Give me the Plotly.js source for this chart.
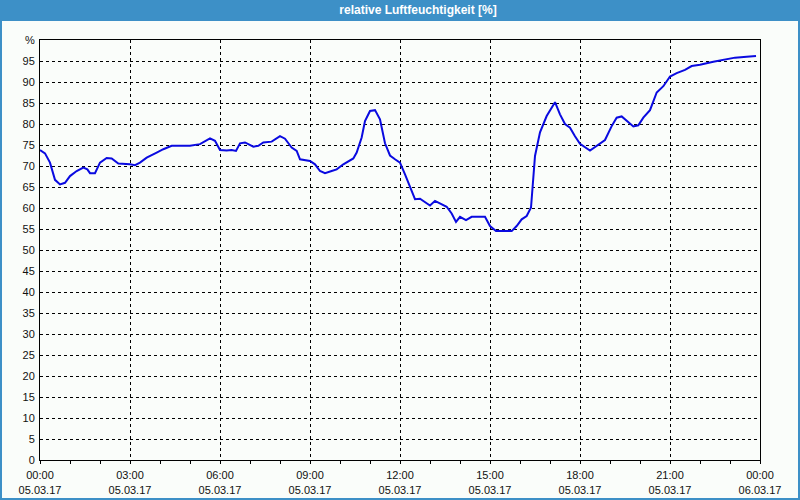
<!DOCTYPE html>
<html>
<head>
<meta charset="utf-8">
<script src="https://cdn.plot.ly/plotly-3.0.1.min.js"></script>
<style>html,body{margin:0;padding:0;background:#fafdfa;}#chart{width:800px;height:500px;}</style>
</head>
<body>
<div id="chart"></div>
<script>
// hours since 05.03.17 00:00
const hours = [0.000,0.167,0.333,0.5,0.667,0.833,1.0,1.222,1.444,1.578,1.667,1.833,2.0,2.222,2.389,2.611,3.0,3.167,3.333,3.556,3.889,4.111,4.389,5.0,5.333,5.5,5.667,5.833,6.0,6.222,6.389,6.533,6.667,6.833,7.111,7.278,7.444,7.722,8.0,8.167,8.389,8.556,8.667,9.0,9.167,9.333,9.5,9.722,9.889,10.111,10.444,10.556,10.722,10.833,11.0,11.167,11.333,11.5,11.667,11.833,12.0,12.167,12.333,12.5,12.667,12.833,13.0,13.167,13.333,13.556,13.722,13.867,14.0,14.2,14.389,14.833,15.0,15.2,15.722,15.889,16.056,16.222,16.367,16.422,16.5,16.667,16.889,17.167,17.333,17.5,17.667,17.833,18.0,18.333,18.556,18.833,19.056,19.222,19.389,19.556,19.778,19.944,20.111,20.333,20.556,20.778,21.0,21.222,21.5,21.722,22.0,22.444,22.778,23.167,23.556,23.867];
const humidity = [73.8,73.0,70.8,66.7,65.6,66.0,67.6,68.8,69.6,69.2,68.3,68.3,70.8,71.9,71.8,70.6,70.4,70.2,70.8,72.0,73.2,74.0,74.8,74.8,75.2,76.0,76.6,76.0,73.8,73.7,73.8,73.6,75.4,75.6,74.6,74.8,75.6,75.8,77.1,76.5,74.4,73.6,71.6,71.2,70.4,68.8,68.3,68.8,69.2,70.4,71.8,73.2,76.8,80.7,83.1,83.3,81.1,75.4,72.5,71.6,70.8,68.0,64.9,62.1,62.2,61.3,60.6,61.7,61.1,60.3,58.7,56.7,57.9,57.1,57.9,57.9,55.7,54.5,54.5,55.7,57.3,58.1,60.1,66.0,72.4,78.0,81.9,85.2,82.3,80.0,79.1,77.1,75.3,73.7,74.8,76.2,79.5,81.5,81.8,80.7,79.4,79.7,81.5,83.3,87.5,89.0,91.3,92.1,92.9,93.8,94.1,94.8,95.2,95.8,96.0,96.2];

const xTickVals = [0,3,6,9,12,15,18,21,24];
const xTickText = ["00:00<br>05.03.17","03:00<br>05.03.17","06:00<br>05.03.17","09:00<br>05.03.17","12:00<br>05.03.17","15:00<br>05.03.17","18:00<br>05.03.17","21:00<br>05.03.17","00:00<br>06.03.17"];
const yTickVals = [0,5,10,15,20,25,30,35,40,45,50,55,60,65,70,75,80,85,90,95,100];
const yTickText = ["0","5","10","15","20","25","30","35","40","45","50","55","60","65","70","75","80","85","90","95","%"];
const chartTitle = "relative Luftfeuchtigkeit [%]";

const W = 720, H = 420, L = 40, T = 40;
const px = v => (v - L) / W;
const py = v => (T + H - v) / H;
const barBlue = '#3d90c7';

const trace = {
  x: hours, y: humidity, type: 'scatter', mode: 'lines',
  line: {color: '#0a0ae0', width: 2}, hoverinfo: 'skip'
};

const tickFont = {family: 'Liberation Sans, Arial, sans-serif', size: 11, color: '#111111'};

const layout = {
  width: 800, height: 500,
  margin: {l: 40, r: 40, t: 40, b: 40},
  paper_bgcolor: '#fafdfa', plot_bgcolor: '#fafdfa',
  showlegend: false,
  title: {text: chartTitle, x: 418/800, xanchor: 'center', y: 1 - 10/500, yanchor: 'middle', yref: 'container', xref: 'container',
          font: {family: 'Liberation Sans, Arial, sans-serif', size: 12, color: '#ffffff', weight: 'bold'}},
  xaxis: {
    range: [0, 24], tickvals: xTickVals, ticktext: xTickText,
    showline: true, linecolor: '#000', linewidth: 1, mirror: true,
    showgrid: true, gridcolor: '#000', gridwidth: 1, griddash: '3px,3px',
    ticks: 'outside', ticklen: 3, tickcolor: '#000', ticklabelstandoff: 2,
    minor: {dtick: 1, tick0: 0, ticks: 'outside', ticklen: 3, tickcolor: '#000', showgrid: false},
    zeroline: false, tickfont: tickFont, fixedrange: true
  },
  yaxis: {
    range: [0, 100], tickvals: yTickVals, ticktext: yTickText,
    showline: true, linecolor: '#000', linewidth: 1, mirror: true,
    showgrid: true, gridcolor: '#000', gridwidth: 1, griddash: '3px,3px',
    ticks: '', zeroline: false, tickfont: tickFont, ticklabelstandoff: 2, fixedrange: true
  },
  shapes: [
    {type: 'rect', xref: 'paper', yref: 'paper', x0: px(0), x1: px(800), y0: py(20), y1: py(0),
     fillcolor: barBlue, line: {width: 0}, layer: 'below'},
    {type: 'rect', xref: 'paper', yref: 'paper', x0: px(1), x1: px(799), y0: py(499), y1: py(20),
     fillcolor: 'rgba(0,0,0,0)', line: {color: barBlue, width: 2}, layer: 'above'}
  ]
};

Plotly.newPlot('chart', [trace], layout, {staticPlot: true, displayModeBar: false});
</script>
</body>
</html>
